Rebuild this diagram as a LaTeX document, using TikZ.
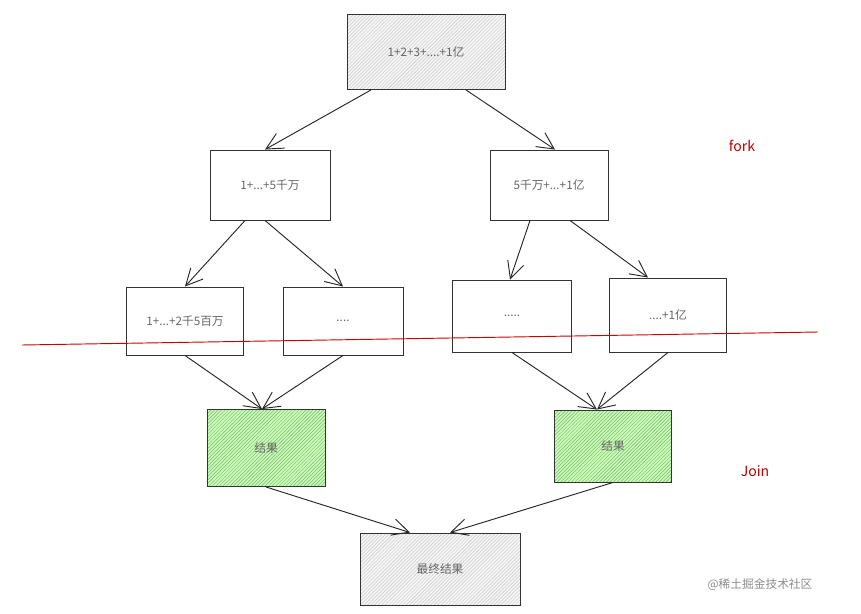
\documentclass[tikz,border=0pt]{standalone}
\usepackage{fontspec}
\newfontfamily\cjk{Noto Sans CJK SC}
\usetikzlibrary{patterns,arrows.meta}
\begin{document}
\begin{tikzpicture}[x=0.03cm,y=-0.03cm,
    box/.style={draw=black!80,thick,rectangle,inner sep=0pt,font=\cjk,text=black!60},
    gray box/.style={box,preaction={fill=black!4},pattern=north east lines,pattern color=black!20},
    green box/.style={box,preaction={fill=lime!40!green!30!white},pattern=north east lines,pattern color=green!40!black!50},
    arr/.style={-{Straight Barb[length=5mm,width=5mm]},thick,black!85},
    note/.style={font=\cjk\large,text=red!75!black}]
  \useasboundingbox (0,0) rectangle (861,614);
  % tree of boxes
  \node[gray box,minimum width=158*0.3mm,minimum height=75*0.3mm] (top) at (426,52) {1+2+3+....+1亿};
  \node[box,minimum width=120*0.3mm,minimum height=70*0.3mm] (l1a) at (270,185) {1+...+5千万};
  \node[box,minimum width=118*0.3mm,minimum height=70*0.3mm] (l1b) at (549,185) {5千万+...+1亿};
  \node[box,minimum width=117*0.3mm,minimum height=68*0.3mm] (l2a) at (185,321) {1+...+2千5百万};
  \node[box,minimum width=120*0.3mm,minimum height=68*0.3mm] (l2b) at (343,321) {....};
  \node[box,minimum width=119*0.3mm,minimum height=72*0.3mm] (l2c) at (512,316) {.....};
  \node[box,minimum width=117*0.3mm,minimum height=74*0.3mm] (l2d) at (668,315) {....+1亿};
  \node[green box,minimum width=118*0.3mm,minimum height=77*0.3mm] (ga) at (266,448) {结果};
  \node[green box,minimum width=117*0.3mm,minimum height=72*0.3mm] (gb) at (613,446) {结果};
  \node[gray box,minimum width=160*0.3mm,minimum height=72*0.3mm] (res) at (440,569) {最终结果};
  % fork
  \draw[arr] ([xshift=-55*0.3mm]top.south) -- ([xshift=-5*0.3mm]l1a.north);
  \draw[arr] ([xshift=40*0.3mm]top.south) -- ([xshift=6*0.3mm]l1b.north);
  \draw[arr] ([xshift=-25*0.3mm]l1a.south) -- (l2a.north);
  \draw[arr] ([xshift=-5*0.3mm]l1a.south) -- (l2b.north);
  \draw[arr] ([xshift=-19*0.3mm]l1b.south) -- ([xshift=-2*0.3mm]l2c.north);
  \draw[arr] ([xshift=21*0.3mm]l1b.south) -- ([xshift=-20*0.3mm]l2d.north);
  % join
  \draw[arr] (l2a.south) -- ([xshift=-4*0.3mm]ga.north);
  \draw[arr] (l2b.south) -- ([xshift=-4*0.3mm]ga.north);
  \draw[arr] (l2c.south) -- ([xshift=-16*0.3mm]gb.north);
  \draw[arr] (l2d.south) -- ([xshift=-16*0.3mm]gb.north);
  \draw[arr] (ga.south) -- ([xshift=-30*0.3mm]res.north);
  \draw[arr] (gb.south) -- ([xshift=10*0.3mm]res.north);
  % split line and notes
  \coordinate (cutl) at (22,345);
  \coordinate (cutr) at (818,332);
  \draw[red!80!black,thick] (cutl) -- (cutr);
  \node[note] (fork) at (742,146) {fork};
  \node[note] (join) at (755,471) {Join};
  \node[font=\cjk,text=black!45] (mark) at (760,585) {@稀土掘金技术社区};
\end{tikzpicture}
\end{document}
